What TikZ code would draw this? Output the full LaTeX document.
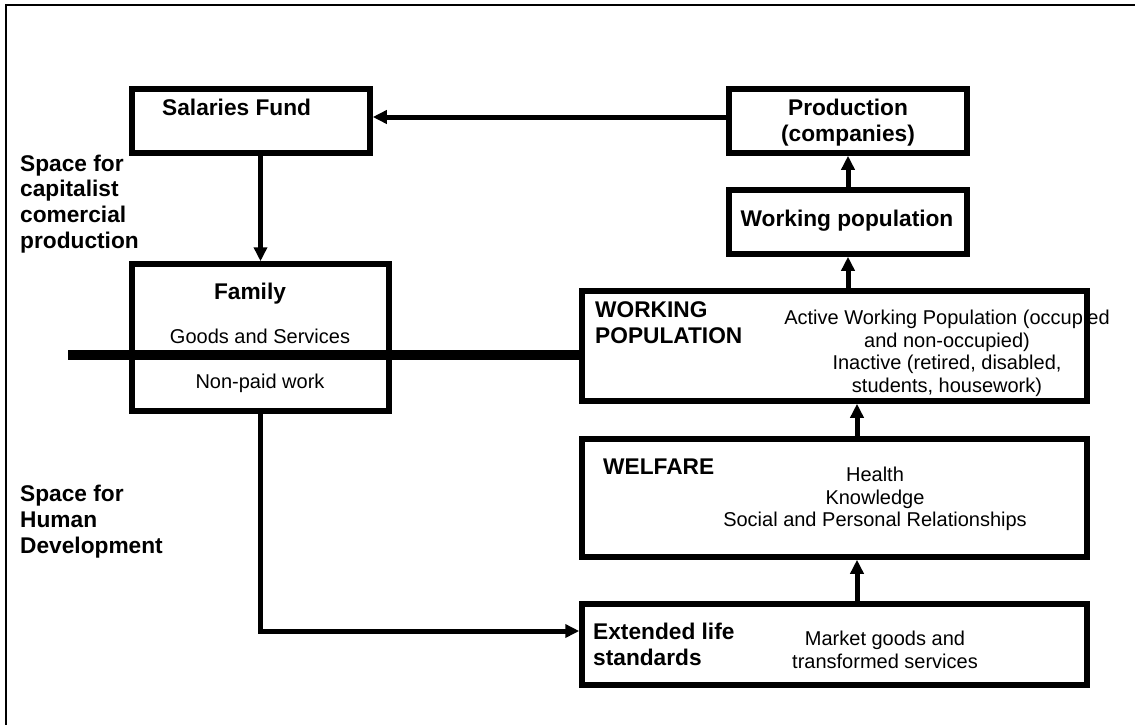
\documentclass[tikz,border=0pt]{standalone}
\usepackage{fontspec}
\setmainfont{Liberation Sans}
\usetikzlibrary{arrows.meta}
\newcommand{\Px}{1pt}
\newcommand{\Frame}{5.5pt}
\newcommand{\Flow}{5pt}
\newcommand{\Divide}{10pt}
\definecolor{ink}{HTML}{000000}

\begin{document}
\begin{tikzpicture}[x=\Px,y=-\Px, line join=miter,
  box/.style={draw=ink,line width=\Frame,rectangle,inner sep=0pt},
  flow/.style={draw=ink,line width=\Flow,-{Triangle[length=14pt,width=13pt]}},
  head/.style={inner sep=0pt,font=\fontsize{22.7}{25.8}\selectfont\bfseries},
  plain/.style={inner sep=0pt,font=\fontsize{20}{22.5}\selectfont}]

  % ---- page and frame -----------------------------------------------------
  \useasboundingbox (0,0) rectangle (1135,724);
  \begin{scope}
    \clip (0,0) rectangle (1135,724);
    % The frame runs off the right and bottom edges.
    \draw[ink,line width=1.5pt] (6,5) rectangle (1145,735);
  \end{scope}

  % ---- boxes --------------------------------------------------------------
  \node[box,minimum width=238pt,minimum height=64pt]  (salaries)   at (251,121)   {};
  \node[box,minimum width=257pt,minimum height=147pt] (family)     at (260.5,337.5) {};
  \node[box,minimum width=238pt,minimum height=64pt]  (production) at (848,121)   {};
  \node[box,minimum width=238pt,minimum height=64pt]  (workpop)    at (848,222)   {};
  \node[box,minimum width=505pt,minimum height=110pt] (population) at (834.5,346) {};
  \node[box,minimum width=505pt,minimum height=118pt] (welfare)    at (834.5,498) {};
  \node[box,minimum width=505pt,minimum height=81pt]  (extended)   at (834.5,644.5) {};

  % ---- the line between the two spaces ------------------------------------
  \coordinate (cut) at (68,355);
  \draw[ink,line width=\Divide] (cut) -- (cut -| population.west);

  % ---- flows --------------------------------------------------------------
  \draw[flow] ([yshift=4pt]production.west) -- ([yshift=4pt]production.west -| salaries.east);
  \draw[flow] (family.north |- salaries.south) -- (family.north);
  \draw[flow] (family.south) |- ([yshift=13.5pt]extended.west);
  \draw[flow] ([xshift=22.5pt]extended.north) -- ([xshift=22.5pt]welfare.south);
  \draw[flow] ([xshift=22.5pt]welfare.north) -- ([xshift=22.5pt]population.south);
  \draw[flow] (workpop.south |- population.north) -- (workpop.south);
  \draw[flow] (workpop.north) -- (production.south);

  % ---- texts (multi-line nodes sit on their last baseline) ----------------
  \node[head,anchor=base west] (salariesT) at (162,115) {Salaries Fund};
  \node[head,anchor=base west,align=left] (capitalT) at (20,248.5)
    {Space for\\capitalist\\comercial\\production};
  \node[head,anchor=base] (familyT) at (250,299) {Family};
  \node[plain,anchor=base] (goodsT) at (260,343) {Goods and Services};
  \node[plain,anchor=base] (nonpaidT) at (260,388) {Non-paid work};
  \node[head,anchor=base west,align=left] (humanT) at (20,553)
    {Space for\\Human\\Development};

  \node[head,anchor=base,align=center] (productionT) at (848,141.5) {Production\\(companies)};
  \node[head,anchor=base] (workpopT) at (847,226) {Working population};

  \node[head,anchor=base west,align=left] (populationT) at (595,343.5) {WORKING\\POPULATION};
  \node[plain,anchor=base,align=center] (activeT) at (947,392)
    {Active Working Population (occupied\\and non-occupied)\\Inactive (retired, disabled,\\students, housework)};

  \node[head,anchor=base west] (welfareT) at (603,474) {WELFARE};
  \node[plain,anchor=base,align=center] (healthT) at (875,526.5)
    {Health\\Knowledge\\Social and Personal Relationships};

  \node[head,anchor=base west,align=left] (extendedT) at (593,665) {Extended life\\standards};
  \node[plain,anchor=base,align=center] (marketT) at (885,668)
    {Market goods and\\transformed services};

\end{tikzpicture}
\end{document}
